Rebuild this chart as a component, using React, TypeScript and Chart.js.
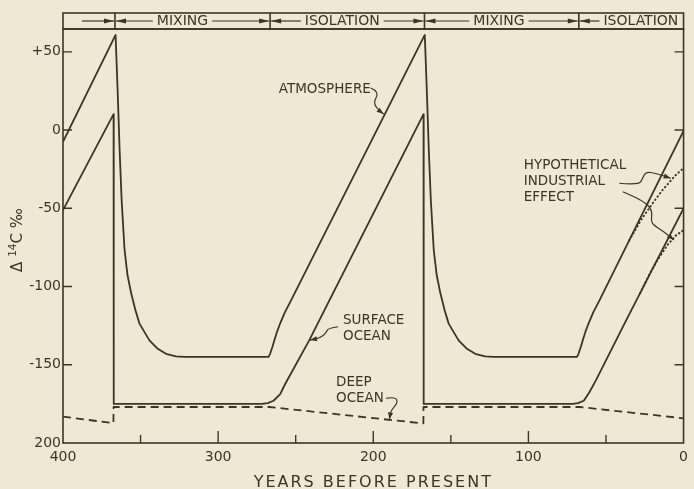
import { useEffect, useRef } from 'react';
import { Chart, registerables } from 'chart.js';

Chart.register(...registerables);

// ---------- data (years before present, Δ14C ‰) ----------
const atmosphereYears = [400, 366.1, 364.8, 363.5, 362.2, 360.3, 358.4, 356.0, 353.3, 350.7, 344.3, 339.2, 333.6, 327.2, 321.9, 267.5, 266.5, 265.0, 263.5, 262.0, 260.0, 257.0, 253.0, 166.8, 165.5, 164.2, 162.9, 161.0, 159.1, 156.7, 154.0, 151.4, 145.0, 139.9, 134.3, 127.9, 122.6, 68.7, 67.7, 66.2, 64.7, 63.2, 61.2, 58.2, 54.2, 0];
const atmosphereValues = [-7.5, 60.8, 25.6, -12.8, -44.8, -76.8, -92.8, -104.5, -115.2, -123.7, -134.4, -139.6, -143.0, -144.7, -145.0, -145.0, -143.0, -138.5, -133.5, -128.8, -123.5, -116.5, -108.8, 60.8, 25.6, -12.8, -44.8, -76.8, -92.8, -104.5, -115.2, -123.7, -134.4, -139.6, -143.0, -144.7, -145.0, -145.0, -143.0, -138.5, -133.5, -128.8, -123.5, -116.5, -108.8, -0.6];

const surfaceOceanYears = [400, 367.4, 367.3, 271.8, 268.0, 264.3, 260.0, 256.8, 241.3, 167.6, 167.5, 71.5, 68.0, 64.3, 60.8, 56.5, 37.0, 0];
const surfaceOceanValues = [-51.2, 10.2, -175, -175, -174.5, -173, -168.7, -162.3, -134.4, 10.2, -175, -175, -174.5, -173, -167.7, -160, -121.6, -50];

const deepOceanYears = [400, 367.5, 367.4, 267, 167.7, 167.6, 67, 0];
const deepOceanValues = [-183.2, -187.3, -177, -177, -187.5, -177, -177, -184.2];

const atmosphereIndustrialYears = [35, 27.5, 20, 13.6, 5.1, 0];
const atmosphereIndustrialValues = [-70.4, -57.6, -46.9, -38.4, -28.8, -24.3];

const surfaceIndustrialYears = [28, 22.2, 16.8, 10.4, 5.1, 0];
const surfaceIndustrialValues = [-104.3, -92.5, -83, -73.5, -67.5, -64];

// ---------- axes ----------
const xLabelTicks = [400, 300, 200, 100, 0];
const xMajorInnerTicks = [300, 200, 100];
const xMinorInnerTicks = [350, 250, 150, 50];
const yTickValues = [50, 0, -50, -100, -150, -200];
const yTickLabels = ['+50', '0', '-50', '-100', '-150', '200'];
const xTitle = 'YEARS BEFORE PRESENT';

// ---------- phase band ----------
const phaseBoundaryYears = [366.5, 266.5, 167, 67.5];
const phaseNames = ['MIXING', 'ISOLATION', 'MIXING', 'ISOLATION'];
const phaseLabelYears = [323, 220, 119, 27.5];

// ---------- curve labels (anchored in data units) ----------
const curveLabels = [
  { lines: ['ATMOSPHERE'], year: 201.6, value: 23.7, align: 'right' },
  { lines: ['SURFACE', 'OCEAN'], year: 219.5, value: -123.9, align: 'left' },
  { lines: ['DEEP', 'OCEAN'], year: 224, value: -163.6, align: 'left' },
  { lines: ['HYPOTHETICAL', 'INDUSTRIAL', 'EFFECT'], year: 103, value: -24.9, align: 'left' },
];
const labelPointers = [
  [[201.6, 26.9], [196, 24.5], [200.3, 17.1], [195.2, 11.7], [193.3, 10.3]],
  [[222.7, -125.7], [229.1, -126.5], [230.4, -129.7], [234.2, -132.9], [240.8, -134.2]],
  [[191.8, -171.4], [185.4, -170.4], [184.3, -174.6], [188.6, -178.9], [189.6, -184.9]],
  [[41.4, -34.0], [28.6, -35.1], [26.4, -30.8], [24.3, -26.6], [17.9, -27.6], [8.3, -30.8]],
  [[39.2, -39.4], [26.4, -44.7], [20, -51.1], [21.1, -58.6], [17.9, -61.8], [12.6, -65.0], [6.2, -70.3]],
];

const BG = '#efe9d4';
const INK = '#3c3428';
const FONT = '"DejaVu Sans", sans-serif';

function zip(xs: number[], ys: number[]) {
  return xs.map((x, i) => ({ x, y: ys[i] }));
}

function arrowHead(ctx: CanvasRenderingContext2D, fx: number, fy: number, tx: number, ty: number, len: number, half: number) {
  const ang = Math.atan2(ty - fy, tx - fx);
  const c = Math.cos(ang), s = Math.sin(ang);
  ctx.beginPath();
  ctx.moveTo(tx, ty);
  ctx.lineTo(tx - len * c - half * s, ty - len * s + half * c);
  ctx.lineTo(tx - len * c + half * s, ty - len * s - half * c);
  ctx.closePath();
  ctx.fill();
}

const decorPlugin = {
  id: 'decor',
  beforeDraw(chart: any) {
    const { ctx, width, height } = chart;
    ctx.save();
    ctx.fillStyle = BG;
    ctx.fillRect(0, 0, width, height);
    ctx.restore();
  },
  afterDraw(chart: any) {
    const { ctx, chartArea: a, scales } = chart;
    const xs = scales.x, ys = scales.y;
    ctx.save();
    ctx.strokeStyle = INK;
    ctx.fillStyle = INK;
    ctx.lineWidth = 1.6;

    // frame
    ctx.strokeRect(a.left, a.top, a.right - a.left, a.bottom - a.top);

    // inner ticks on y (both sides)
    ctx.lineWidth = 1.4;
    yTickValues.forEach((v) => {
      if (v <= ys.min) return;
      const py = ys.getPixelForValue(v);
      ctx.beginPath();
      ctx.moveTo(a.left, py); ctx.lineTo(a.left + 9, py);
      ctx.moveTo(a.right, py); ctx.lineTo(a.right - 9, py);
      ctx.stroke();
    });
    // inner ticks on x
    xMajorInnerTicks.forEach((v) => {
      const px = xs.getPixelForValue(v);
      ctx.beginPath(); ctx.moveTo(px, a.bottom); ctx.lineTo(px, a.bottom - 12); ctx.stroke();
    });
    xMinorInnerTicks.forEach((v) => {
      const px = xs.getPixelForValue(v);
      ctx.beginPath(); ctx.moveTo(px, a.bottom); ctx.lineTo(px, a.bottom - 8); ctx.stroke();
    });

    // phase band
    const bandH = 16;
    const bandTop = a.top - bandH;
    const midY = bandTop + bandH / 2;
    ctx.lineWidth = 1.6;
    ctx.strokeRect(a.left, bandTop, a.right - a.left, bandH);
    const divs = phaseBoundaryYears.map((v) => xs.getPixelForValue(v));
    divs.forEach((px) => {
      ctx.beginPath(); ctx.moveTo(px, bandTop); ctx.lineTo(px, a.top); ctx.stroke();
    });
    ctx.font = `14px ${FONT}`;
    ctx.textBaseline = 'middle';
    ctx.textAlign = 'center';
    ctx.lineWidth = 1.2;
    const arrow = (x1: number, x2: number) => {
      ctx.beginPath(); ctx.moveTo(x1, midY); ctx.lineTo(x2, midY); ctx.stroke();
      arrowHead(ctx, x1, midY, x2, midY, 10, 2.6);
    };
    arrow(a.left + 19, divs[0] - 1);
    phaseNames.forEach((name, i) => {
      const cx = xs.getPixelForValue(phaseLabelYears[i]);
      const w = ctx.measureText(name).width;
      ctx.fillText(name, cx, midY + 0.5);
      const left = divs[i];
      const right = i + 1 < divs.length ? divs[i + 1] : null;
      arrow(cx - w / 2 - 4, left + 1);
      if (right !== null) arrow(cx + w / 2 + 4, right - 1);
    });

    // curve labels
    ctx.font = `13.5px ${FONT}`;
    ctx.textBaseline = 'alphabetic';
    curveLabels.forEach((lab) => {
      const px = xs.getPixelForValue(lab.year);
      const py = ys.getPixelForValue(lab.value);
      ctx.textAlign = lab.align as CanvasTextAlign;
      lab.lines.forEach((t, k) => ctx.fillText(t, px, py + k * 15.8));
    });

    // pointers
    ctx.lineWidth = 1.2;
    labelPointers.forEach((pts) => {
      const p = pts.map(([yr, v]) => [xs.getPixelForValue(yr), ys.getPixelForValue(v)]);
      ctx.beginPath();
      ctx.moveTo(p[0][0], p[0][1]);
      for (let i = 1; i < p.length - 1; i++) {
        const mx = (p[i][0] + p[i + 1][0]) / 2, my = (p[i][1] + p[i + 1][1]) / 2;
        ctx.quadraticCurveTo(p[i][0], p[i][1], mx, my);
      }
      const l = p[p.length - 1], pl = p[p.length - 2];
      ctx.lineTo(l[0], l[1]);
      ctx.stroke();
      arrowHead(ctx, pl[0], pl[1], l[0], l[1], 7, 2.6);
    });

    // x title
    ctx.font = `16px ${FONT}`;
    ctx.textAlign = 'center';
    ctx.textBaseline = 'alphabetic';
    (ctx as any).letterSpacing = '2px';
    ctx.fillText(xTitle, (a.left + a.right) / 2, 487);
    (ctx as any).letterSpacing = '0px';

    // y title: Δ 14C ‰ (rotated)
    ctx.save();
    ctx.translate(22, 240);
    ctx.rotate(-Math.PI / 2);
    ctx.textAlign = 'left';
    const parts: [string, number, number][] = [['Δ ', 15, 0], ['14', 10.5, -6], ['C ‰', 15, 0]];
    let total = 0;
    parts.forEach(([t, sz]) => { ctx.font = `${sz}px ${FONT}`; total += ctx.measureText(t).width; });
    let cx = -total / 2;
    parts.forEach(([t, sz, dy]) => {
      ctx.font = `${sz}px ${FONT}`;
      ctx.fillText(t, cx, dy);
      cx += ctx.measureText(t).width;
    });
    ctx.restore();

    ctx.restore();
  },
};

export default function App() {
  const ref = useRef<HTMLCanvasElement | null>(null);
  useEffect(() => {
    document.body.style.margin = '0';
    document.body.style.background = BG;
    const canvas = ref.current!;
    const line = { pointRadius: 0, tension: 0, fill: false, borderColor: INK, borderJoinStyle: 'round' as const };
    const chart = new Chart(canvas, {
      type: 'line',
      data: {
        datasets: [
          { ...line, label: 'Atmosphere', data: zip(atmosphereYears, atmosphereValues), borderWidth: 1.8 },
          { ...line, label: 'Surface ocean', data: zip(surfaceOceanYears, surfaceOceanValues), borderWidth: 1.8 },
          { ...line, label: 'Deep ocean', data: zip(deepOceanYears, deepOceanValues), borderWidth: 1.8, borderDash: [8, 5] },
          { ...line, label: 'Atmosphere (industrial)', data: zip(atmosphereIndustrialYears, atmosphereIndustrialValues), borderWidth: 2, borderDash: [0.5, 3.5], borderCapStyle: 'round' },
          { ...line, label: 'Surface ocean (industrial)', data: zip(surfaceIndustrialYears, surfaceIndustrialValues), borderWidth: 2, borderDash: [0.5, 3.5], borderCapStyle: 'round' },
        ],
      },
      options: {
        responsive: false,
        animation: false,
        events: [],
        layout: { padding: { top: 29, right: 6, left: 0, bottom: 0 } },
        plugins: { legend: { display: false }, tooltip: { enabled: false }, title: { display: false } },
        scales: {
          x: {
            type: 'linear', reverse: true, min: 0, max: 400,
            grid: { display: false, drawTicks: false }, border: { display: false },
            afterBuildTicks: (s: any) => { s.ticks = xLabelTicks.map((v) => ({ value: v })); },
            afterFit: (s: any) => { s.height = 46; },
            ticks: { padding: 6, autoSkip: false, maxRotation: 0, color: INK, font: { family: FONT, size: 14 }, callback: (v: any) => String(v) },
          },
          y: {
            type: 'linear', min: -200, max: 64.6,
            grid: { display: false, drawTicks: false }, border: { display: false },
            afterBuildTicks: (s: any) => { s.ticks = yTickValues.map((v) => ({ value: v })); },
            afterFit: (s: any) => { s.width = 63; },
            ticks: { padding: 2, autoSkip: false, color: INK, font: { family: FONT, size: 14 }, callback: (v: any) => { const i = yTickValues.indexOf(v); return i >= 0 ? yTickLabels[i] : ''; } },
          },
        },
      },
      plugins: [decorPlugin],
    } as any);
    return () => chart.destroy();
  }, []);
  return (
    <div style={{ position: 'fixed', left: 0, top: 0, width: 694, height: 489, background: BG }}>
      <canvas ref={ref} width={694} height={489} style={{ display: 'block', width: 694, height: 489 }} />
    </div>
  );
}
